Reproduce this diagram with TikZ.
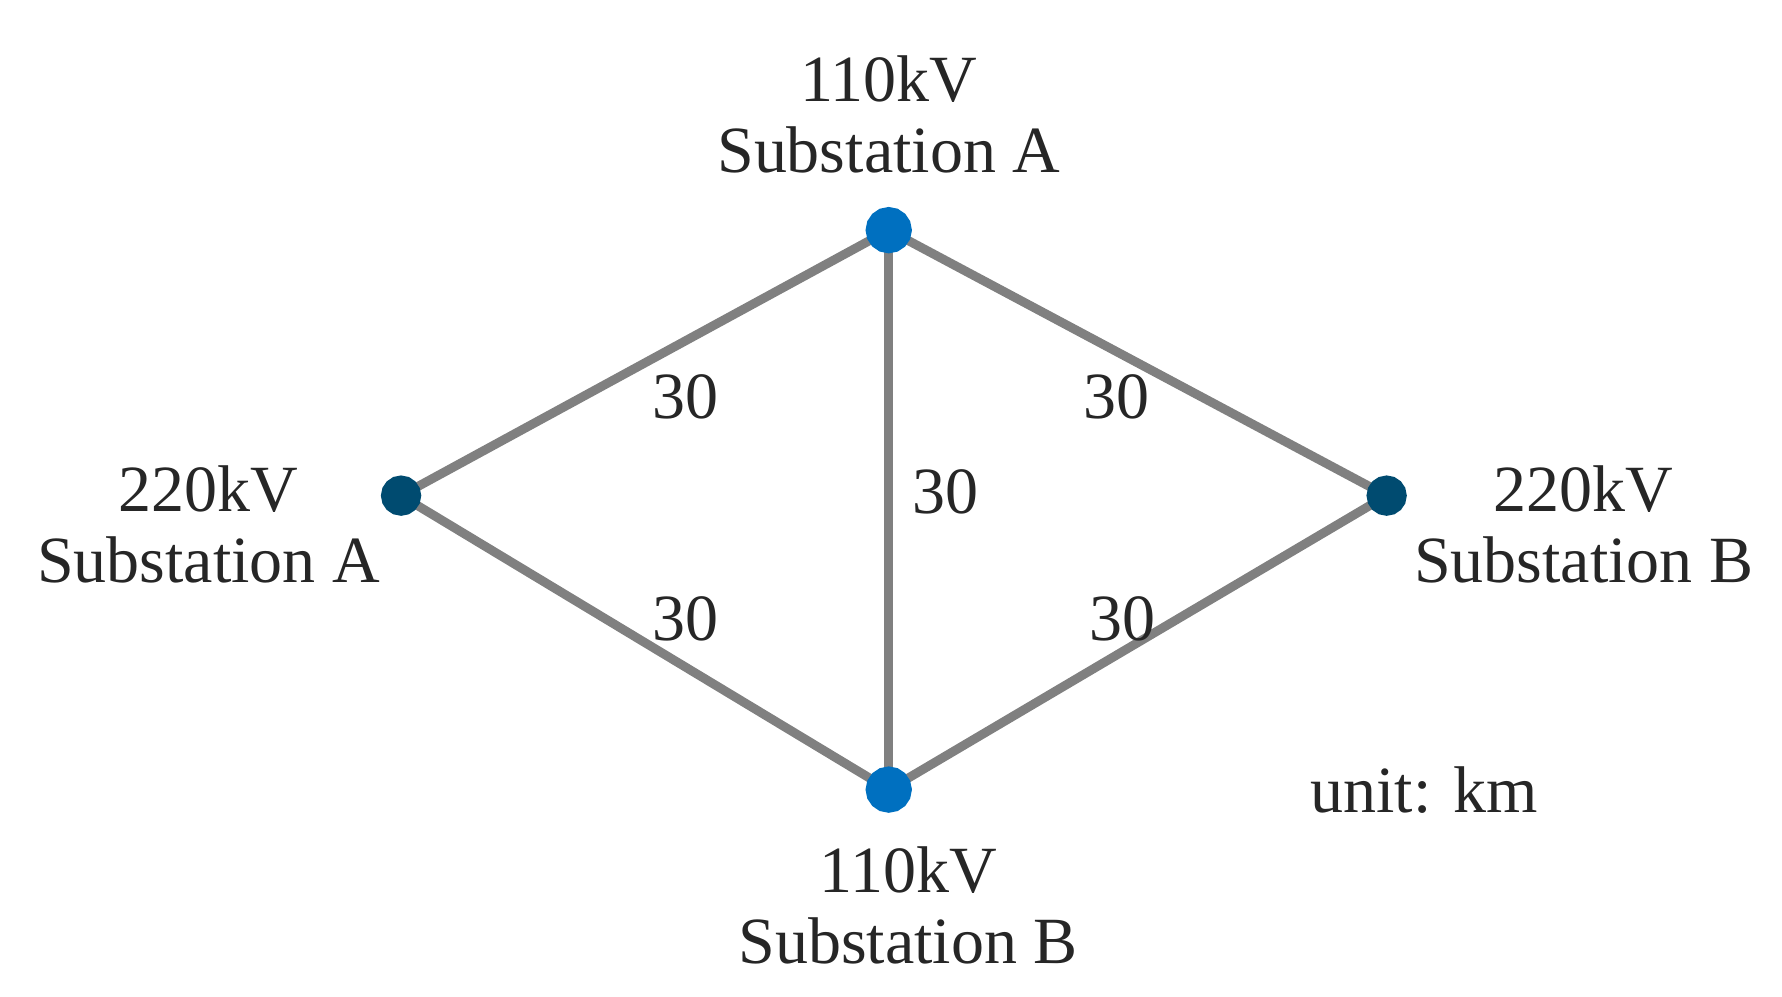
\documentclass[tikz,border=0pt]{standalone}
\usepackage{fontspec}
\setmainfont{Liberation Serif}
\begin{document}
\begin{tikzpicture}[x=1.1394pt,y=-1.1394pt,
  line/.style={draw=black!50,line width=9pt},
  lbl/.style={font=\fontsize{66}{79}\selectfont,text=black!85,align=center,inner sep=0pt},
  hv/.style={circle,fill=white,draw={rgb,255:red,0;green,112;blue,192},line width=24pt,minimum size=22pt,inner sep=0pt},
  ev/.style={circle,fill=white,draw={rgb,255:red,0;green,75;blue,112},line width=22pt,minimum size=18pt,inner sep=0pt}]
\useasboundingbox (0,0) rectangle (1564,875);
\coordinate (t) at (780,202);
\coordinate (l) at (352,435);
\coordinate (r) at (1217,435);
\coordinate (b) at (780,693);
\draw[line] (l)--(t)--(r)--(b)--(l);
\draw[line] (t)--(b);
\node[hv] (T) at (t) {};
\node[hv] (B) at (b) {};
\node[ev] (L) at (l) {};
\node[ev] (R) at (r) {};
\node[lbl] (tl) at (780,100) {110kV\\[-8pt]Substation A};
\node[lbl] (ll) at (183,460) {220kV\\[-8pt]Substation A};
\node[lbl] (rl) at (1390,460) {220kV\\[-8pt]Substation B};
\node[lbl] (bl) at (797,795) {110kV\\[-8pt]Substation B};
\node[lbl] (u) at (1250,693) {unit: km};
\node[lbl] (n1) at (602,348) {30};
\node[lbl] (n2) at (980,348) {30};
\node[lbl] (n3) at (830,432) {30};
\node[lbl] (n4) at (602,543) {30};
\node[lbl] (n5) at (985,543) {30};
\end{tikzpicture}
\end{document}
